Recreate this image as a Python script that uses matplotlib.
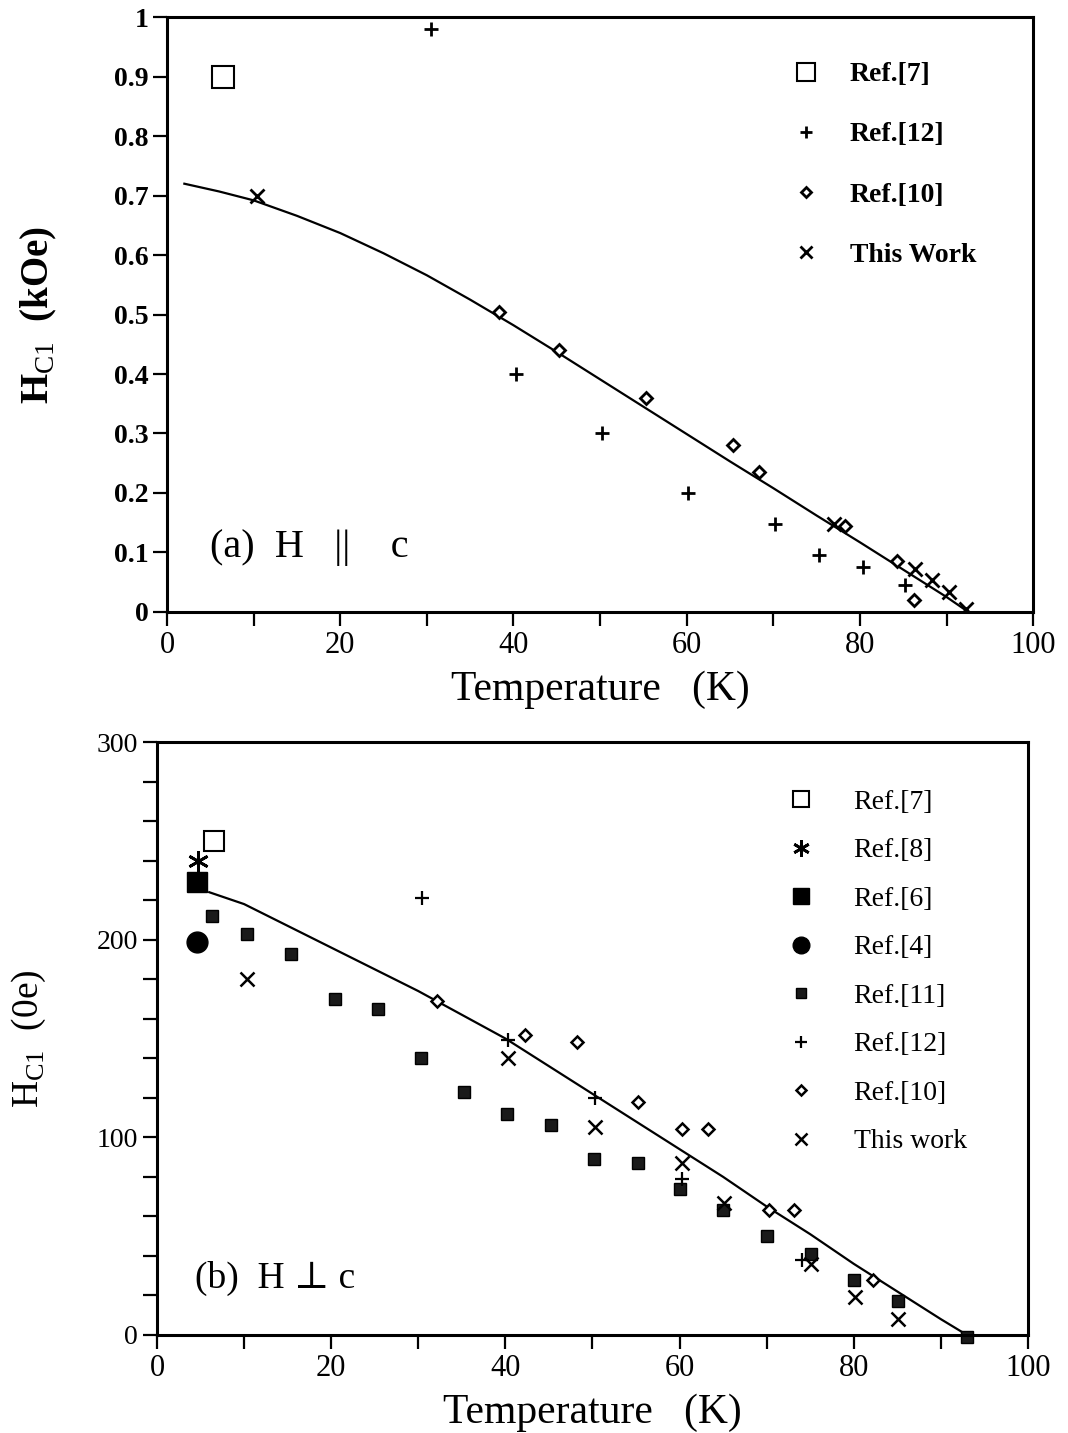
import matplotlib
matplotlib.use("Agg")
import matplotlib.pyplot as plt
from matplotlib.ticker import MultipleLocator

plt.rcParams['font.family'] = ['Liberation Serif', 'DejaVu Serif']
plt.rcParams['mathtext.fontset'] = 'custom'
plt.rcParams['mathtext.rm'] = 'Liberation Serif'
plt.rcParams['mathtext.bf'] = 'Liberation Serif:bold'

# ---- panel (a): H || c, values in kOe ----
a_ref7_T = [6.5]
a_ref7_H = [0.90]
a_ref12_T = [30.5, 40.3, 50.2, 60.2, 70.2, 75.3, 80.3, 85.2]
a_ref12_H = [0.98, 0.40, 0.30, 0.20, 0.148, 0.096, 0.075, 0.045]
a_ref10_T = [38.3, 45.3, 55.3, 65.4, 68.4, 78.3, 84.3, 86.2]
a_ref10_H = [0.505, 0.44, 0.36, 0.28, 0.235, 0.145, 0.086, 0.02]
a_this_T = [10.4, 77.0, 86.3, 88.3, 90.3, 92.3]
a_this_H = [0.70, 0.147, 0.072, 0.054, 0.034, 0.005]
a_fit_T = [2, 6, 10, 15, 20, 25, 30, 35, 40, 45, 50, 55, 60, 65, 70, 75, 80, 85, 90, 92.5]
a_fit_H = [0.72, 0.707, 0.692, 0.666, 0.637, 0.603, 0.566, 0.525, 0.482, 0.437,
           0.391, 0.345, 0.299, 0.253, 0.208, 0.162, 0.117, 0.071, 0.025, 0.0]

# ---- panel (b): H perp c, values in Oe ----
b_ref7_T = [6.5]
b_ref7_H = [250]
b_ref8_T = [4.7]
b_ref8_H = [240]
b_ref6_T = [4.6]
b_ref6_H = [229]
b_ref4_T = [4.6]
b_ref4_H = [199]
b_ref11_T = [6.3, 10.3, 15.4, 20.4, 25.4, 30.3, 35.2, 40.2, 45.2, 50.2, 55.2,
             60.1, 65.0, 70.0, 75.1, 80.0, 85.1, 93.0]
b_ref11_H = [212, 203, 193, 170, 165, 140, 123, 112, 106, 89, 87,
             74, 63, 50, 41, 28, 17, -1]
b_ref12_T = [30.4, 40.3, 50.3, 60.3, 74.1]
b_ref12_H = [221, 149, 120, 79, 38]
b_ref10_T = [32.1, 42.2, 48.2, 55.2, 60.3, 63.3, 70.3, 73.1, 82.2]
b_ref10_H = [169, 152, 148, 118, 104, 104, 63, 63, 28]
b_this_T = [10.3, 40.3, 50.3, 60.3, 65.1, 75.1, 80.1, 85.1]
b_this_H = [180, 140, 105, 87, 67, 36, 19, 8]
b_fit_T = [6, 10, 15, 20, 25, 30, 35, 40, 45, 50, 55, 60, 65, 70, 75, 80, 85, 90, 93]
b_fit_H = [224, 218, 207, 196, 185, 174, 162, 150, 136, 122, 108, 94, 80,
           65, 51, 36, 22, 8, 0]

fig = plt.figure(figsize=(10.68, 14.33), dpi=100)
ax1 = fig.add_axes([0.1564, 0.573, 0.811, 0.415])
ax2 = fig.add_axes([0.147, 0.0684, 0.8155, 0.4138])


def style_axes(ax):
    for side in ax.spines.values():
        side.set_linewidth(2.2)
    ax.tick_params(which='both', direction='out', top=False, right=False,
                   width=1.6, length=10)
    ax.tick_params(axis='y', labelsize=20)
    ax.tick_params(axis='x', labelsize=22)
    ax.set_xlim(0, 100)
    ax.xaxis.set_major_locator(MultipleLocator(20))
    ax.xaxis.set_minor_locator(MultipleLocator(10))
    ax.set_xlabel('Temperature   (K)', fontsize=30, labelpad=8)


# panel (a)
style_axes(ax1)
ax1.set_ylim(0, 1)
ax1.set_yticks([0, 0.1, 0.2, 0.3, 0.4, 0.5, 0.6, 0.7, 0.8, 0.9, 1])
ax1.set_yticklabels(['0', '0.1', '0.2', '0.3', '0.4', '0.5', '0.6', '0.7', '0.8', '0.9', '1'],
                    fontweight='bold', fontsize=20)
ax1.plot(a_fit_T, a_fit_H, color='black', lw=1.6)
ax1.plot(a_ref7_T, a_ref7_H, ls='none', marker='s', ms=16, mfc='white', mec='black', mew=1.5,
         label='Ref.[7]')
ax1.plot(a_ref12_T, a_ref12_H, ls='none', marker='+', ms=10, mec='black', mew=2,
         label='Ref.[12]')
ax1.plot(a_ref10_T, a_ref10_H, ls='none', marker='D', ms=6.5, mfc='white', mec='black', mew=2,
         label='Ref.[10]')
ax1.plot(a_this_T, a_this_H, ls='none', marker='x', ms=10, mec='black', mew=2,
         label='This Work')
ax1.set_ylabel('H$_{\\rm C1}$  (kOe)', fontsize=28, fontweight='bold')
ax1.yaxis.set_label_coords(-0.125, 0.5)
ax1.text(0.05, 0.108, '(a)  H   ||    c', transform=ax1.transAxes, fontsize=29,
         va='center', ha='left')
leg1 = ax1.legend(loc='upper left', bbox_to_anchor=(0.718, 0.925), frameon=False,
                  fontsize=20, labelspacing=1.25, handlelength=1.2, handletextpad=1.0,
                  borderpad=0, borderaxespad=0, markerscale=0.8)
for t in leg1.get_texts():
    t.set_fontweight('bold')

# panel (b)
style_axes(ax2)
ax2.set_ylim(0, 300)
ax2.yaxis.set_major_locator(MultipleLocator(100))
ax2.yaxis.set_minor_locator(MultipleLocator(20))
ax2.plot(b_fit_T, b_fit_H, color='black', lw=1.6)
ax2.plot(b_ref7_T, b_ref7_H, ls='none', marker='s', ms=15, mfc='white', mec='black', mew=1.5,
         label='Ref.[7]')
ax2.plot(b_ref8_T, b_ref8_H, ls='none', marker=(6, 2, 0), ms=15, mec='black', mew=2,
         label='Ref.[8]')
ax2.plot(b_ref6_T, b_ref6_H, ls='none', marker='s', ms=14, color='black',
         label='Ref.[6]')
ax2.plot(b_ref4_T, b_ref4_H, ls='none', marker='o', ms=15, color='black',
         label='Ref.[4]')
ax2.plot(b_ref11_T, b_ref11_H, ls='none', marker='s', ms=8.5, mfc='#1a1a1a', mec='black',
         mew=1, label='Ref.[11]', clip_on=False)
ax2.plot(b_ref12_T, b_ref12_H, ls='none', marker='+', ms=10, mec='black', mew=1.6,
         label='Ref.[12]')
ax2.plot(b_ref10_T, b_ref10_H, ls='none', marker='D', ms=6.5, mfc='white', mec='black', mew=1.8,
         label='Ref.[10]')
ax2.plot(b_this_T, b_this_H, ls='none', marker='x', ms=10, mec='black', mew=1.8,
         label='This work')
ax2.set_ylabel('H$_{\\rm C1}$  (0e)', fontsize=27)
ax2.yaxis.set_label_coords(-0.125, 0.5)
ax2.text(0.044, 0.096, '(b)  H \u22a5 c', transform=ax2.transAxes, fontsize=27,
         va='center', ha='left')
leg2 = ax2.legend(loc='upper left', bbox_to_anchor=(0.72, 0.92), frameon=False,
                  fontsize=20, labelspacing=0.83, handlelength=1.2, handletextpad=1.3,
                  borderpad=0, borderaxespad=0, markerscale=0.8)

fig.savefig('out.png', dpi=100)
